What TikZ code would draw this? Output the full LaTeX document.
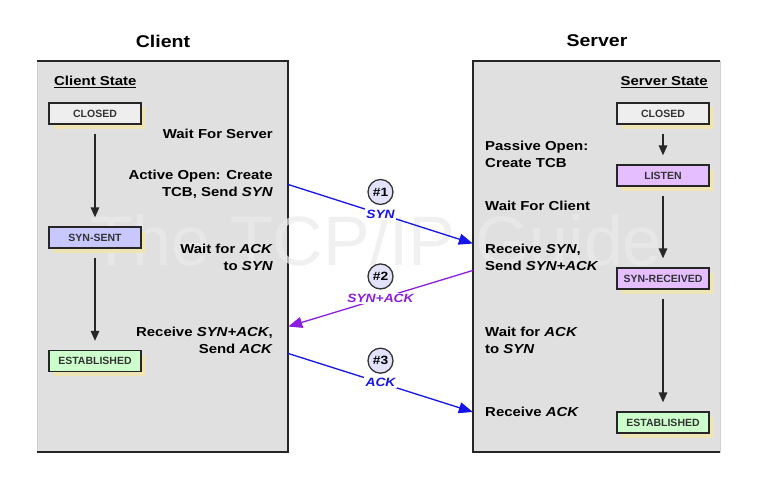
\documentclass[tikz,border=0pt]{standalone}
\usepackage{fontspec}
\setmainfont{Liberation Sans}[FakeStretch=1.15]
\newfontfamily\statefont{Liberation Sans}
\usepackage{tikz}
\usetikzlibrary{positioning,arrows.meta,shadows}
\definecolor{panelgray}{RGB}{224,224,224}
\definecolor{shadecol}{RGB}{238,228,180}
\definecolor{closedfill}{RGB}{238,238,238}
\definecolor{sentfill}{RGB}{200,200,255}
\definecolor{listenfill}{RGB}{228,190,255}
\definecolor{estfill}{RGB}{204,255,204}
\definecolor{stepfill}{RGB}{226,226,250}
\definecolor{synblue}{RGB}{20,20,235}
\definecolor{ackpurple}{RGB}{140,30,225}
\definecolor{stampgray}{RGB}{235,235,235}
\tikzset{
  panel/.style={rectangle, fill=panelgray, draw=black!18, line width=0.4pt, inner sep=0pt},
  rim/.style={line width=2pt, draw=black!85},
  state/.style={rectangle, draw=black!85, line width=1.3pt, minimum width=92pt,
                minimum height=21pt, inner sep=0pt, text=black!80,
                font=\statefont\fontsize{10.5}{12}\selectfont\bfseries,
                drop shadow={shadow xshift=4.5pt, shadow yshift=-4.5pt, fill=shadecol, opacity=1}},
  closedst/.style={state, fill=closedfill},
  sentst/.style={state, fill=sentfill},
  listenst/.style={state, fill=listenfill},
  estst/.style={state, fill=estfill},
  note/.style={font=\fontsize{13}{17}\selectfont\bfseries, inner sep=0pt},
  cnote/.style={note, align=right, anchor=east},
  snote/.style={note, align=left, anchor=west},
  hdr/.style={font=\fontsize{13}{15}\selectfont\bfseries, inner sep=0pt},
  title/.style={font=\fontsize{17}{20}\selectfont\bfseries},
  flow/.style={-{Triangle[length=10pt,width=8.5pt]}, line width=1.5pt, draw=black!85,
               shorten <=9pt, shorten >=9pt},
  msg/.style={-{Triangle[length=14pt,width=11pt]}, line width=1.3pt},
  msglbl/.style={fill=white, inner sep=1.5pt, font=\fontsize{12}{14}\selectfont\bfseries\itshape},
  stepnum/.style={circle, draw=black!80, line width=1.3pt, fill=stepfill, minimum size=25pt,
                  inner sep=0pt, font=\fontsize{12}{14}\selectfont\bfseries},
}
\begin{document}
\begin{tikzpicture}[x=1pt, y=-1pt]
  \fill[white] (0,0) rectangle (762,492);
  \useasboundingbox (0,0) rectangle (762,492);
  % the two sides
  \node[panel, minimum width=251pt, minimum height=391pt] (client) at (162.5,256.5) {};
  \node[panel, minimum width=247pt, minimum height=391pt] (server) at (596.5,256.5) {};
  \draw[rim] (client.north west) -- (client.north east) -- (client.south east) -- (client.south west);
  \draw[rim] (server.north east) -- (server.north west) -- (server.south west) -- (server.south east);
  \node[text=stampgray, text opacity=0.7, font=\statefont\fontsize{70}{70}\selectfont] (stamp) at (376,240) {The TCP/IP Guide};
  \node[title] (ctitle) at (163,41) {Client};
  \node[title] (stitle) at (597,41) {Server};
  \node[hdr, anchor=west] (chdr) at (54,82) {\underline{Client State}};
  \node[hdr, anchor=east] (shdr) at (708,82) {\underline{Server State}};
  % client states
  \node[closedst] (cclosed) at (95,113.5) {CLOSED};
  \node[sentst] (csent) at (95,237.5) {SYN-SENT};
  \node[estst] (cest) at (95,361) {ESTABLISHED};
  \draw[flow] (cclosed) -- (csent);
  \draw[flow] (csent) -- (cest);
  % server states
  \node[closedst] (sclosed) at (663,113.5) {CLOSED};
  \node[listenst] (slisten) at (663,175.5) {LISTEN};
  \node[listenst] (srcvd) at (663,278.5) {SYN-RECEIVED};
  \node[estst] (sest) at (663,422.5) {ESTABLISHED};
  \draw[flow] (sclosed) -- (slisten);
  \draw[flow] (slisten) -- (srcvd);
  \draw[flow] (srcvd) -- (sest);
  % client notes
  \node[cnote] (cwait) at (273,133.5) {Wait For Server};
  \node[cnote] (actopen) at (273,184.5) {Active Open: Create\\TCB, Send \textit{SYN}};
  \node[cnote] (cwaitack) at (273,257) {Wait for \textit{ACK}\\to \textit{SYN}};
  \node[cnote] (rcvsynack) at (273,340) {Receive \textit{SYN+ACK},\\Send \textit{ACK}};
  % server notes
  \node[snote] (passive) at (485,154.5) {Passive Open:\\Create TCB};
  \node[snote] (swait) at (485,205.5) {Wait For Client};
  \node[snote] (rcvsyn) at (485,257) {Receive \textit{SYN},\\Send \textit{SYN+ACK}};
  \node[snote] (swaitack) at (485,340) {Wait for \textit{ACK}\\to \textit{SYN}};
  \node[snote] (rcvack) at (485,412) {Receive \textit{ACK}};
  % handshake messages
  \draw[msg, draw=synblue] (client.east |- actopen) -- (server.west |- rcvsyn.north)
     node[msglbl, midway, text=synblue] (synlbl) {SYN};
  \draw[msg, draw=ackpurple] (server.west |- rcvsyn.south) -- (client.east |- rcvsynack.north)
     node[msglbl, midway, text=ackpurple] (synacklbl) {SYN+ACK};
  \draw[msg, draw=synblue] (client.east |- rcvsynack.south) -- (server.west |- rcvack)
     node[msglbl, midway, text=synblue] (acklbl) {ACK};
  \node[stepnum, above=2.5pt of synlbl] (step1) {\#1};
  \node[stepnum, above=2.5pt of synacklbl] (step2) {\#2};
  \node[stepnum, above=2.5pt of acklbl] (step3) {\#3};
\end{tikzpicture}
\end{document}
